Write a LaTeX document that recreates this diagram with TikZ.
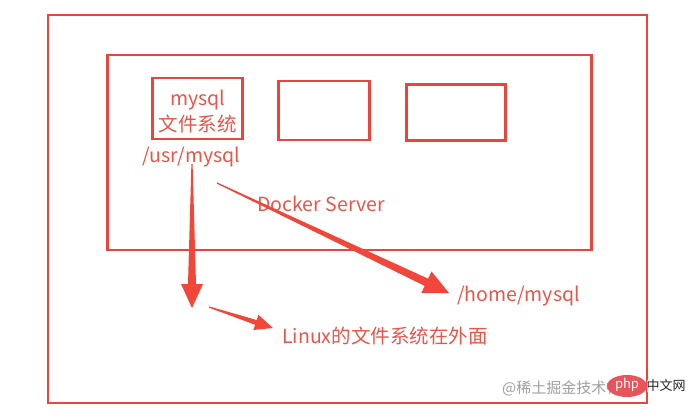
\documentclass[tikz,border=0pt]{standalone}
\usepackage{fontspec}
\setmainfont{Noto Sans CJK SC}
\usetikzlibrary{calc,shapes.geometric}
\definecolor{rl}{HTML}{E8463C}
\definecolor{rt}{HTML}{E5574B}
\definecolor{ra}{HTML}{F0473A}
\definecolor{wm}{HTML}{A0A0A0}
\definecolor{phpred}{HTML}{E8545A}
\tikzset{
  frame/.style={draw=rl, line width=2.5pt},
  lbl/.style={text=rt, font=\fontsize{19.5}{21}\selectfont, inner sep=0pt},
}
% tapered arrow: #1 start, #2 tip, #3 head length, #4 neck half width, #5 head half width
\newcommand{\brusharrow}[5]{%
  \fill[ra] ($(#1)!0.6pt!90:(#2)$)
    -- ($($(#2)!#3!(#1)$)!#4!90:(#2)$)
    -- ($($(#2)!#3!(#1)$)!#5!90:(#2)$)
    -- (#2)
    -- ($($(#2)!#3!(#1)$)!#5!-90:(#2)$)
    -- ($($(#2)!#3!(#1)$)!#4!-90:(#2)$)
    -- ($(#1)!0.6pt!-90:(#2)$) -- cycle;}
\begin{document}
\begin{tikzpicture}[x=1pt,y=-1pt]
\useasboundingbox (0,0) rectangle (699,418);
\fill[white] (0,0) rectangle (699,418);
% outer and inner frames
\node[frame, minimum width=599pt, minimum height=388pt, inner sep=0pt] (outer) at (347.5,209) {};
\node[frame, minimum width=484pt, minimum height=195pt, inner sep=0pt] (server) at (349.5,152.5) {};
% containers
\node[frame, minimum width=90pt, minimum height=61pt, inner sep=0pt] (box1) at (197.5,108.5) {};
\node[frame, minimum width=91pt, minimum height=59pt, inner sep=0pt] (box2) at (324,110.5) {};
\node[frame, minimum width=99pt, minimum height=56pt, inner sep=0pt] (box3) at (456,112.5) {};
\node[lbl] (t1) at (197.5,100) {mysql};
\node[lbl] (t2) at (197.5,124) {文件系统};
% labels
\node[lbl] (usr) at (191.5,157) {/usr/mysql};
\node[lbl] (docker) at (321,204) {Docker Server};
\node[lbl] (home) at (518.5,296) {/home/mysql};
\node[lbl] (linux) at (385,336) {Linux的文件系统在外面};
% arrows
\coordinate (a1s) at (192,164);
\coordinate (a1e) at (192,308);
\coordinate (a2s) at (217,183);
\coordinate (a2e) at (449,293);
\coordinate (a3s) at (209,307);
\coordinate (a3e) at (273,328);
\brusharrow{a1s}{a1e}{24pt}{4pt}{11pt}
\brusharrow{a2s}{a2e}{25pt}{4pt}{12pt}
\brusharrow{a3s}{a3e}{18pt}{2.5pt}{8pt}
% watermark
\node[text=wm, font=\fontsize{15}{16}\selectfont, inner sep=0pt, anchor=west] (wmk) at (502,388) {@稀土掘金技术社区};
\node[ellipse, fill=phpred, minimum width=40pt, minimum height=22pt, inner sep=0pt] (php) at (627,386) {};
\node[text=white, font=\fontsize{13}{14}\selectfont\itshape, inner sep=0pt] (phpt) at (627,385) {php};
\node[text=black!85, font=\fontsize{13}{14}\selectfont, inner sep=0pt, fill=white, fill opacity=0.6, text opacity=1] (cn) at (666,386) {中文网};
\end{tikzpicture}
\end{document}
